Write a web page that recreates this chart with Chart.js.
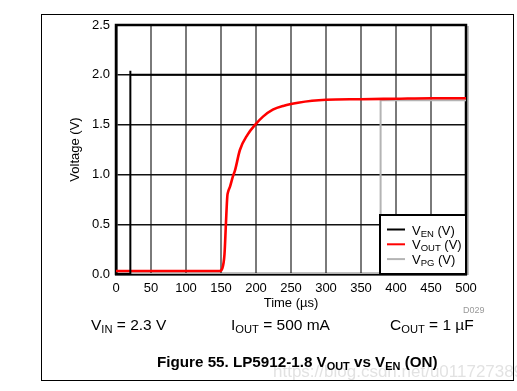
<!DOCTYPE html>
<html>
<head>
<meta charset="utf-8">
<script src="https://cdn.jsdelivr.net/npm/chart.js@4"></script>
<style>
  body { margin: 0; background: #fff; }
  #wrap { position: relative; width: 517px; height: 391px; font-family: "Liberation Sans", Arial, sans-serif; }
  #frame { position: absolute; left: 41px; top: 14px; width: 471px; height: 365px; border: 1px solid #000; }
  canvas { position: absolute; left: 0; top: 0; }
  .t { position: absolute; white-space: nowrap; color: #000; }
  .t sub { font-size: 72%; vertical-align: -0.25em; line-height: 0; }
</style>
</head>
<body>
<div id="wrap">
  <div id="frame"></div>
  <canvas id="lineChart" width="517" height="391"></canvas>
  <div class="t" style="left:463px; top:305px; font-size:9px; color:#999;">D029</div>
  <div class="t" style="left:91px; top:316px; font-size:15.5px;">V<sub>IN</sub> = 2.3 V</div>
  <div class="t" style="left:231px; top:316px; font-size:15.5px;">I<sub>OUT</sub> = 500 mA</div>
  <div class="t" style="left:390px; top:316px; font-size:15.5px;">C<sub>OUT</sub> = 1 µF</div>
  <div class="t" style="left:273px; top:362px; font-size:17px; color:rgba(190,190,190,0.45);">https://blog.csdn.net/u011727389</div>
  <div class="t" style="left:157px; top:353px; font-size:15.2px; font-weight:bold;">Figure 55. LP5912-1.8 V<sub>OUT</sub> vs V<sub>EN</sub> (ON)</div>
</div>
<script>
// time axis in µs, voltages in V
const xTicks = [0, 50, 100, 150, 200, 250, 300, 350, 400, 450, 500];
const yTicks = [0.0, 0.5, 1.0, 1.5, 2.0, 2.5];

const enTime = [0, 20, 20, 21, 500];
const enVolt = [0, 0, 2.04, 2.0, 2.0];

const outTime = [0, 50, 100, 148, 152, 155, 157, 159, 160, 163, 167, 170, 177, 188, 199, 210, 224, 240, 260, 280, 300, 350, 400, 450, 500];
const outVolt = [0.03, 0.03, 0.03, 0.03, 0.06, 0.2, 0.5, 0.78, 0.82, 0.88, 0.98, 1.04, 1.245, 1.4, 1.5, 1.58, 1.65, 1.69, 1.72, 1.74, 1.75, 1.755, 1.76, 1.765, 1.765];

const pgTime = [0, 378, 378, 500];
const pgVolt = [0, 0, 1.745, 1.745];

const legendItems = [
    { main: 'V', sub: 'EN', tail: ' (V)', color: '#000000' },
    { main: 'V', sub: 'OUT', tail: ' (V)', color: '#ff0000' },
    { main: 'V', sub: 'PG', tail: ' (V)', color: '#b4b4b4' }
];

function toPoints(xs, ys) {
    return xs.map((x, i) => ({ x: x, y: ys[i] }));
}

// thick frame around the plot area
const framePlugin = {
    id: 'frame',
    beforeDatasetsDraw(chart) {
        const { ctx, chartArea: a } = chart;
        ctx.save();
        ctx.strokeStyle = '#aaaaaa';
        ctx.lineWidth = 1.5;
        ctx.beginPath();
        ctx.moveTo(a.right + 2, a.top + 1);
        ctx.lineTo(a.right + 2, a.bottom + 1);
        ctx.stroke();
        ctx.strokeStyle = '#000';
        ctx.lineWidth = 2.5;
        ctx.strokeRect(a.left, a.top, a.right - a.left, a.bottom - a.top);
        ctx.restore();
    }
};

// legend with subscripts, boxed in the lower right corner
const subLegend = {
    id: 'subLegend',
    afterDatasetsDraw(chart) {
        const { ctx, chartArea: a } = chart;
        const w = 86, h = 59;
        const x0 = a.right - w, y0 = a.bottom - h;
        ctx.save();
        ctx.fillStyle = '#fff';
        ctx.fillRect(x0, y0, w, h);
        ctx.strokeStyle = '#000';
        ctx.lineWidth = 2;
        ctx.strokeRect(x0, y0, w, h);
        legendItems.forEach((item, i) => {
            const y = y0 + 14.5 + i * 14.8;
            ctx.strokeStyle = item.color;
            ctx.lineWidth = 2;
            ctx.beginPath();
            ctx.moveTo(x0 + 7, y);
            ctx.lineTo(x0 + 25, y);
            ctx.stroke();
            ctx.fillStyle = '#000';
            ctx.textBaseline = 'alphabetic';
            let tx = x0 + 32;
            ctx.font = '13px "Liberation Sans", Arial';
            ctx.fillText(item.main, tx, y + 5);
            tx += ctx.measureText(item.main).width;
            ctx.font = '9.5px "Liberation Sans", Arial';
            ctx.fillText(item.sub, tx, y + 7);
            tx += ctx.measureText(item.sub).width;
            ctx.font = '13px "Liberation Sans", Arial';
            ctx.fillText(item.tail, tx, y + 5);
        });
        ctx.restore();
    }
};

function createChart() {
    const lineChart = document.getElementById('lineChart');

    const myChart = new Chart(lineChart, {
        type: 'scatter',
        data: {
            datasets: [
                {
                    label: 'VEN (V)',
                    data: toPoints(enTime, enVolt),
                    showLine: true,
                    borderColor: '#000000',
                    borderWidth: 2,
                    pointRadius: 0
                },
                {
                    label: 'VOUT (V)',
                    data: toPoints(outTime, outVolt),
                    showLine: true,
                    cubicInterpolationMode: 'monotone',   // smooth the rise
                    borderColor: '#ff0000',
                    borderWidth: 2.6,
                    pointRadius: 0
                },
                {
                    label: 'VPG (V)',
                    data: toPoints(pgTime, pgVolt),
                    showLine: true,
                    borderColor: '#b4b4b4',
                    borderWidth: 2,
                    pointRadius: 0
                }
            ]
        },
        options: {
            responsive: false,
            animation: false,
            layout: {
                padding: { left: 60, top: 25, right: 51, bottom: 77 }
            },
            scales: {
                x: {
                    type: 'linear',
                    min: 0,
                    max: 500,
                    afterBuildTicks: (scale) => { scale.ticks = xTicks.map(v => ({ value: v })); },
                    afterFit: (scale) => { scale.height = 40; },
                    title: {
                        display: true,
                        text: 'Time (µs)',
                        color: '#000',
                        padding: { top: 0, bottom: 3 },
                        font: { size: 13, family: '"Liberation Sans", Arial' }
                    },
                    ticks: {
                        color: '#000',
                        padding: 7,
                        maxRotation: 0,
                        font: { size: 13, family: '"Liberation Sans", Arial' }
                    },
                    grid: {
                        color: '#7a7a7a',
                        lineWidth: 2,
                        drawTicks: false
                    },
                    border: { color: '#000', width: 2.5 }
                },
                y: {
                    min: 0,
                    max: 2.5,
                    afterBuildTicks: (scale) => { scale.ticks = yTicks.map(v => ({ value: v })); },
                    afterFit: (scale) => { scale.width = 56; },
                    title: {
                        display: true,
                        text: 'Voltage (V)',
                        color: '#000',
                        padding: { top: 8, bottom: 0 },
                        font: { size: 13, family: '"Liberation Sans", Arial' }
                    },
                    ticks: {
                        color: '#000',
                        padding: 6,
                        callback: (v) => v.toFixed(1),
                        font: { size: 13, family: '"Liberation Sans", Arial' }
                    },
                    grid: {
                        color: '#111111',
                        lineWidth: 1.4,
                        drawTicks: false
                    },
                    border: { color: '#000', width: 2.5 }
                }
            },
            plugins: {
                legend: { display: false },
                tooltip: { enabled: false }
            }
        },
        plugins: [framePlugin, subLegend]
    });
}

createChart();
</script>
</body>
</html>
